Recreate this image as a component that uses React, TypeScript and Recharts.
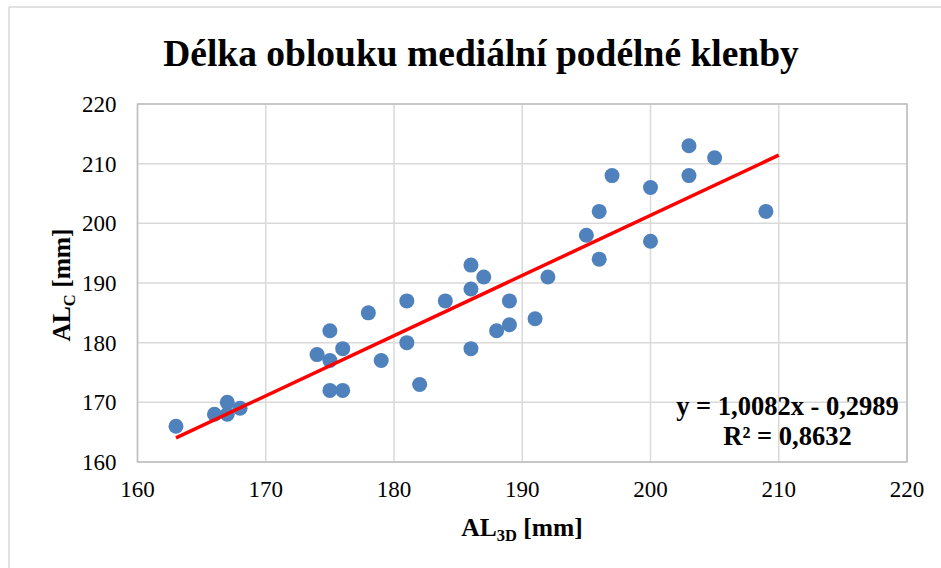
import {
  CartesianGrid,
  ReferenceArea,
  Scatter,
  ScatterChart,
  XAxis,
  YAxis,
} from "recharts";

// measured pairs: AL_3D (x) and AL_C (y), in mm
const al3d = [
  163, 166, 167, 167, 168, 174, 175, 175, 176, 175, 176, 178, 179, 181, 181, 182, 184, 186,
  187, 186, 186, 188, 189, 189, 191, 192, 195, 196, 196, 197, 200, 200, 203, 203, 205, 209,
];
const alc = [
  166, 168, 170, 168, 169, 178, 182, 177, 179, 172, 172, 185, 177, 187, 180, 173, 187, 193,
  191, 189, 179, 182, 183, 187, 184, 191, 198, 202, 194, 208, 206, 197, 213, 208, 211, 202,
];

const xTicks = [160, 170, 180, 190, 200, 210, 220];
const yTicks = [160, 170, 180, 190, 200, 210, 220];

// linear trendline from the chart label
const slope = 1.0082;
const intercept = -0.2989;
const trendRange = [163, 210];
const r2 = "0,8632";

const serif = "Liberation Serif, Times New Roman, serif";

const points = al3d.map((x, i) => ({ x, y: alc[i] }));
const trend = trendRange.map((x) => ({ x, y: slope * x + intercept }));

const Dot = (props: any) => (
  <circle cx={props.cx} cy={props.cy} r={7.5} fill="#4f81bd" />
);

const renderXTick = (p: any) => (
  <text
    key={`x-${p.payload.value}`}
    x={p.x}
    y={p.y + 16}
    textAnchor="middle"
    fill="#000"
    fontFamily={serif}
    fontSize={23}
  >
    {p.payload.value}
  </text>
);

const renderYTick = (p: any) => (
  <text
    key={`y-${p.payload.value}`}
    x={p.x}
    y={p.y + 8}
    textAnchor="end"
    fill="#000"
    fontFamily={serif}
    fontSize={23}
  >
    {p.payload.value}
  </text>
);

export default function App() {
  return (
    <div
      style={{
        position: "absolute",
        left: 0,
        top: 0,
        width: 941,
        height: 568,
        background: "#fff",
        fontFamily: serif,
      }}
    >
      <ScatterChart
        width={941}
        height={568}
        margin={{ top: 104, right: 34, bottom: 0, left: 0 }}
      >
        <CartesianGrid stroke="#d9d9d9" strokeWidth={1.5} />
        <XAxis
          type="number"
          dataKey="x"
          domain={[160, 220]}
          ticks={xTicks}
          height={106}
          axisLine={false}
          tickLine={false}
          tickSize={0}
          tickMargin={19}
          tick={renderXTick}
        />
        <YAxis
          type="number"
          dataKey="y"
          domain={[160, 220]}
          ticks={yTicks}
          width={137.5}
          axisLine={false}
          tickLine={false}
          tickSize={0}
          tickMargin={21}
          tick={renderYTick}
        />
        <ReferenceArea
          x1={160}
          x2={220}
          y1={160}
          y2={220}
          fill="none"
          fillOpacity={0}
          stroke="#bfbfbf"
          strokeWidth={1.5}
          ifOverflow="visible"
        />
        <Scatter
          data={points}
          fill="#4f81bd"
          shape={Dot}
          isAnimationActive={false}
        />
        <Scatter
          data={trend}
          fill="#ff0000"
          line={{ stroke: "#ff0000", strokeWidth: 3.5 }}
          shape={() => <g />}
          isAnimationActive={false}
        />
      </ScatterChart>

      <svg
        width={941}
        height={568}
        style={{ position: "absolute", left: 0, top: 0, pointerEvents: "none" }}
      >
        <line x1={9} y1={7} x2={941} y2={7} stroke="#d9d9d9" strokeWidth={1.5} />
        <line x1={9} y1={7} x2={9} y2={568} stroke="#d9d9d9" strokeWidth={1.5} />

        <text
          x={481}
          y={66}
          textAnchor="middle"
          fontFamily={serif}
          fontWeight="bold"
          fontSize={37.5}
          fill="#000"
        >
          Délka oblouku mediální podélné klenby
        </text>

        <text
          x={522}
          y={536}
          textAnchor="middle"
          fontFamily={serif}
          fontWeight="bold"
          fontSize={25.5}
          fill="#000"
        >
          AL
          <tspan fontSize={16.5} dy={5}>
            3D
          </tspan>
          <tspan dy={-5}> [mm]</tspan>
        </text>

        <text
          transform="translate(70, 285) rotate(-90)"
          textAnchor="middle"
          fontFamily={serif}
          fontWeight="bold"
          fontSize={25.5}
          fill="#000"
        >
          AL
          <tspan fontSize={16.5} dy={5}>
            C
          </tspan>
          <tspan dy={-5}> [mm]</tspan>
        </text>

        <text
          x={787.5}
          y={415}
          textAnchor="middle"
          fontFamily={serif}
          fontWeight="bold"
          fontSize={26.5}
          fill="#000"
        >
          y = 1,0082x - 0,2989
        </text>
        <text
          x={787.5}
          y={445}
          textAnchor="middle"
          fontFamily={serif}
          fontWeight="bold"
          fontSize={26.5}
          fill="#000"
        >
          R² = {r2}
        </text>
      </svg>
    </div>
  );
}
